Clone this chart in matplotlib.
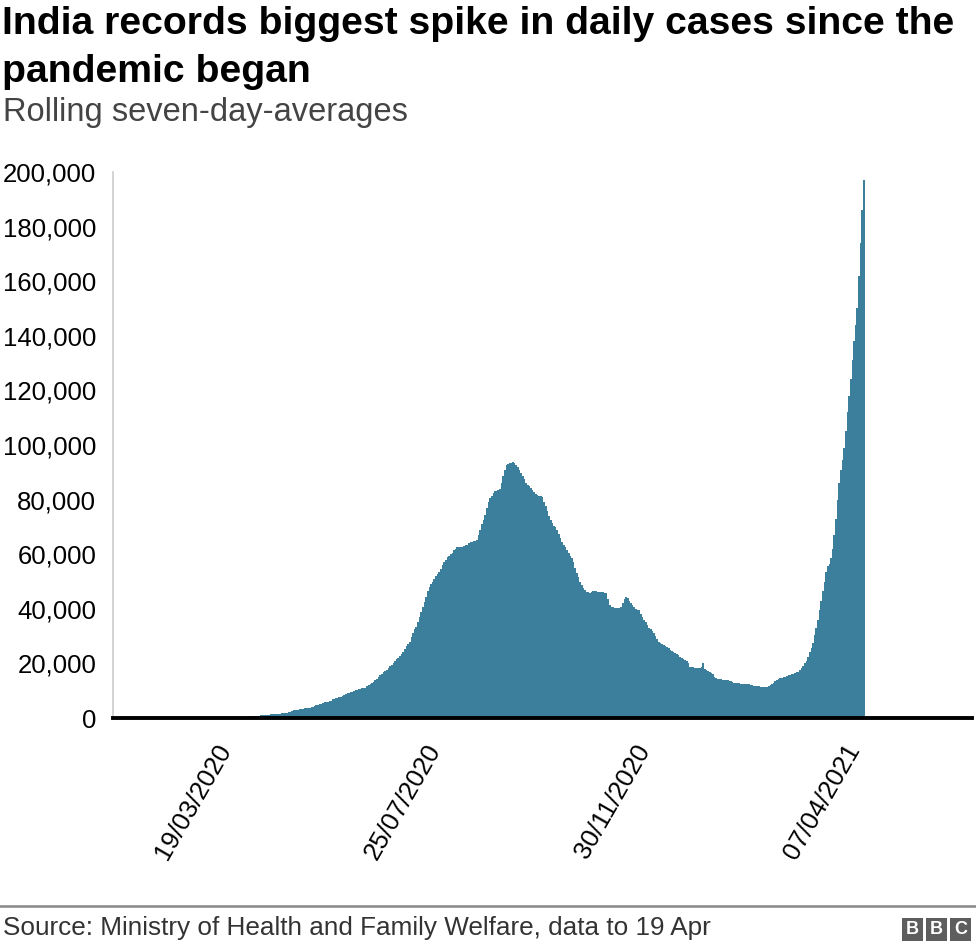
import numpy as np
import pandas as pd
import matplotlib.pyplot as plt
import matplotlib.dates as mdates
from matplotlib.patches import Rectangle
from matplotlib.ticker import FuncFormatter

plt.rcParams['font.family'] = ['Liberation Sans', 'DejaVu Sans']

# Rolling seven-day averages of new cases, thousands
mar_2020 = [0.0, 0.0, 0.0, 0.0, 0.01, 0.01, 0.01, 0.01, 0.01, 0.01, 0.01, 0.01, 0.01, 0.01,
            0.02, 0.02, 0.02, 0.02, 0.02, 0.03, 0.04, 0.05, 0.06, 0.06, 0.07, 0.08, 0.09,
            0.1, 0.11, 0.12, 0.15]
apr_2020 = [0.19, 0.25, 0.3, 0.35, 0.4, 0.45, 0.5, 0.55, 0.6, 0.65, 0.7, 0.75, 0.8, 0.85,
            0.9, 0.95, 1.0, 1.1, 1.15, 1.2, 1.25, 1.3, 1.35, 1.4, 1.45, 1.5, 1.55, 1.6,
            1.65, 1.7]
may_2020 = [1.8, 1.9, 2.1, 2.3, 2.6, 2.8, 2.9, 3.0, 3.1, 3.2, 3.3, 3.4, 3.5, 3.6, 3.7, 3.8,
            3.9, 4.0, 4.3, 4.6, 4.9, 5.1, 5.3, 5.5, 5.7, 5.8, 5.9, 6.1, 6.4, 6.8, 7.1]
jun_2020 = [7.3, 7.5, 7.6, 7.7, 8.0, 8.3, 8.7, 9.0, 9.3, 9.5, 9.7, 9.9, 10.1, 10.3, 10.5,
            10.7, 10.9, 11.0, 11.1, 11.6, 12.0, 12.5, 12.9, 13.2, 13.8, 14.4, 15.0, 15.6,
            16.2, 16.8]
jul_2020 = [17.3, 17.6, 18.2, 18.9, 19.5, 20.1, 20.8, 21.5, 22.0, 22.6, 23.4, 24.2, 25.2,
            26.2, 27.0, 27.8, 29.5, 31.0, 32.5, 33.5, 35.0, 37.0, 39.0, 40.8, 42.5, 44.5,
            46.5, 48.0, 49.0, 50.0, 51.0]
aug_2020 = [52.0, 52.8, 53.5, 54.5, 56.0, 57.0, 58.0, 59.0, 59.5, 60.0, 60.5, 61.5, 62.0,
            62.5, 62.6, 62.6, 62.8, 63.0, 63.2, 63.4, 64.0, 64.3, 64.5, 64.8, 65.0, 65.3,
            67.0, 69.0, 71.0, 72.5, 74.5]
sep_2020 = [77.0, 79.0, 80.5, 81.5, 82.5, 83.0, 83.3, 83.5, 84.0, 86.0, 88.5, 91.0, 92.5,
            93.0, 93.4, 93.5, 93.6, 93.4, 92.6, 91.8, 90.8, 89.7, 88.6, 87.5, 86.2, 85.3,
            84.8, 84.2, 83.5, 82.8]
oct_2020 = [82.0, 81.7, 81.4, 81.2, 81.0, 79.0, 77.5, 76.0, 74.0, 72.5, 71.5, 70.5, 69.8,
            69.0, 67.5, 66.0, 64.5, 63.5, 62.5, 61.5, 60.5, 59.5, 58.5, 57.0, 55.0, 53.0,
            51.5, 50.0, 48.7, 47.5, 46.8]
nov_2020 = [46.2, 46.0, 45.8, 46.0, 46.5, 46.5, 46.5, 46.3, 46.2, 46.2, 46.0, 45.8, 45.8,
            43.5, 41.5, 40.7, 40.5, 40.4, 40.3, 40.3, 40.3, 40.5, 42.0, 43.5, 44.2, 44.0,
            43.0, 42.0, 41.5, 40.8]
dec_2020 = [40.0, 39.5, 39.5, 38.0, 37.0, 36.0, 35.0, 34.0, 33.0, 32.5, 32.0, 31.0, 30.0,
            29.0, 28.0, 27.5, 27.2, 26.8, 26.3, 26.0, 25.5, 25.0, 24.5, 24.0, 23.8, 23.6,
            23.2, 22.5, 22.0, 21.5, 21.2]
jan_2021 = [21.0, 20.0, 18.7, 18.5, 18.5, 18.4, 18.3, 18.3, 18.2, 18.5, 20.0, 18.0, 17.6,
            17.3, 17.0, 16.5, 16.0, 15.2, 14.6, 14.4, 14.3, 14.2, 14.1, 14.0, 13.9, 13.8,
            13.6, 13.4, 13.2, 13.0, 12.9]
feb_2021 = [12.8, 12.7, 12.6, 12.5, 12.5, 12.4, 12.4, 12.3, 12.2, 12.0, 11.9, 11.8, 11.7,
            11.6, 11.5, 11.4, 11.4, 11.4, 11.4, 11.6, 12.0, 12.5, 13.0, 13.5, 13.9, 14.2,
            14.5, 14.8]
mar_2021 = [15.0, 15.2, 15.4, 15.6, 15.8, 16.0, 16.2, 16.4, 16.7, 17.0, 17.6, 18.3, 19.0,
            20.0, 21.0, 22.5, 24.0, 25.8, 27.5, 30.5, 33.0, 36.0, 39.5, 43.0, 46.5, 50.0,
            53.5, 55.5, 56.5, 58.5, 62.0]
apr_2021 = [67.0, 73.0, 80.0, 86.0, 91.0, 94.5, 99.0, 105.0, 112.0, 118.0, 124.0, 131.0,
            138.0, 144.0, 150.0, 162.0, 174.0, 186.0, 197.0]

months = [mar_2020, apr_2020, may_2020, jun_2020, jul_2020, aug_2020, sep_2020, oct_2020,
          nov_2020, dec_2020, jan_2021, feb_2021, mar_2021, apr_2021]
cases = np.concatenate(months) * 1000
dates = pd.date_range("2020-03-01", periods=len(cases), freq="D")

tick_dates = ["2020-03-19", "2020-07-25", "2020-11-30", "2021-04-07"]
tick_labels = ["19/03/2020", "25/07/2020", "30/11/2020", "07/04/2021"]
y_ticks = [0, 20000, 40000, 60000, 80000, 100000, 120000, 140000, 160000, 180000, 200000]

W, H = 976, 950
fig = plt.figure(figsize=(W / 100, H / 100), dpi=100)
ax = fig.add_axes([113 / W, (H - 718) / H, (972 - 113) / W, (718 - 172) / H])

ax.bar(dates, cases, width=1.0, color="#3b7f9c", linewidth=0, align="center")

ax.set_xlim(pd.Timestamp("2020-01-17"), pd.Timestamp("2021-06-24"))
ax.set_ylim(0, 200000)
ax.set_yticks(y_ticks)
ax.yaxis.set_major_formatter(FuncFormatter(lambda v, p: f"{int(v):,}"))
ax.tick_params(axis="y", length=0, pad=12, labelsize=18.5, labelcolor="black")

ax.set_xticks(mdates.date2num(pd.to_datetime(tick_dates)))
ax.set_xticklabels(tick_labels, rotation=60, ha="right", va="top",
                   rotation_mode="anchor", fontsize=18.5, color="black")
ax.tick_params(axis="x", length=0, pad=16)

for s in ["top", "right"]:
    ax.spines[s].set_visible(False)
ax.spines["left"].set_color("#cccccc")
ax.spines["left"].set_linewidth(1.2)
ax.spines["bottom"].set_color("black")
ax.spines["bottom"].set_linewidth(2.8)
ax.spines["bottom"].set_zorder(5)

# titles
fig.text(2 / W, 1 - 34 / H, "India records biggest spike in daily cases since the",
         fontsize=28.2, fontweight="bold", color="black", va="baseline")
fig.text(2 / W, 1 - 82 / H, "pandemic began",
         fontsize=28.2, fontweight="bold", color="black", va="baseline")
fig.text(3 / W, 1 - 121 / H, "Rolling seven-day-averages",
         fontsize=23.5, color="#444444", va="baseline")

# footer
fig.add_artist(plt.Line2D([0, 1], [1 - 906 / H, 1 - 906 / H], color="#888888", lw=1.8))
fig.text(3 / W, 1 - 935 / H, "Source: Ministry of Health and Family Welfare, data to 19 Apr",
         fontsize=18.8, color="#333333", va="baseline")

for i, letter in enumerate("BBC"):
    x0 = 902 + i * 24
    fig.add_artist(Rectangle((x0 / W, 1 - 941 / H), 21 / W, 23 / H,
                             transform=fig.transFigure, color="#5e5e5e", lw=0))
    fig.text((x0 + 10.5) / W, 1 - 929.5 / H, letter, fontsize=13, fontweight="bold",
             color="white", ha="center", va="center")

fig.savefig("out.png", dpi=100)
